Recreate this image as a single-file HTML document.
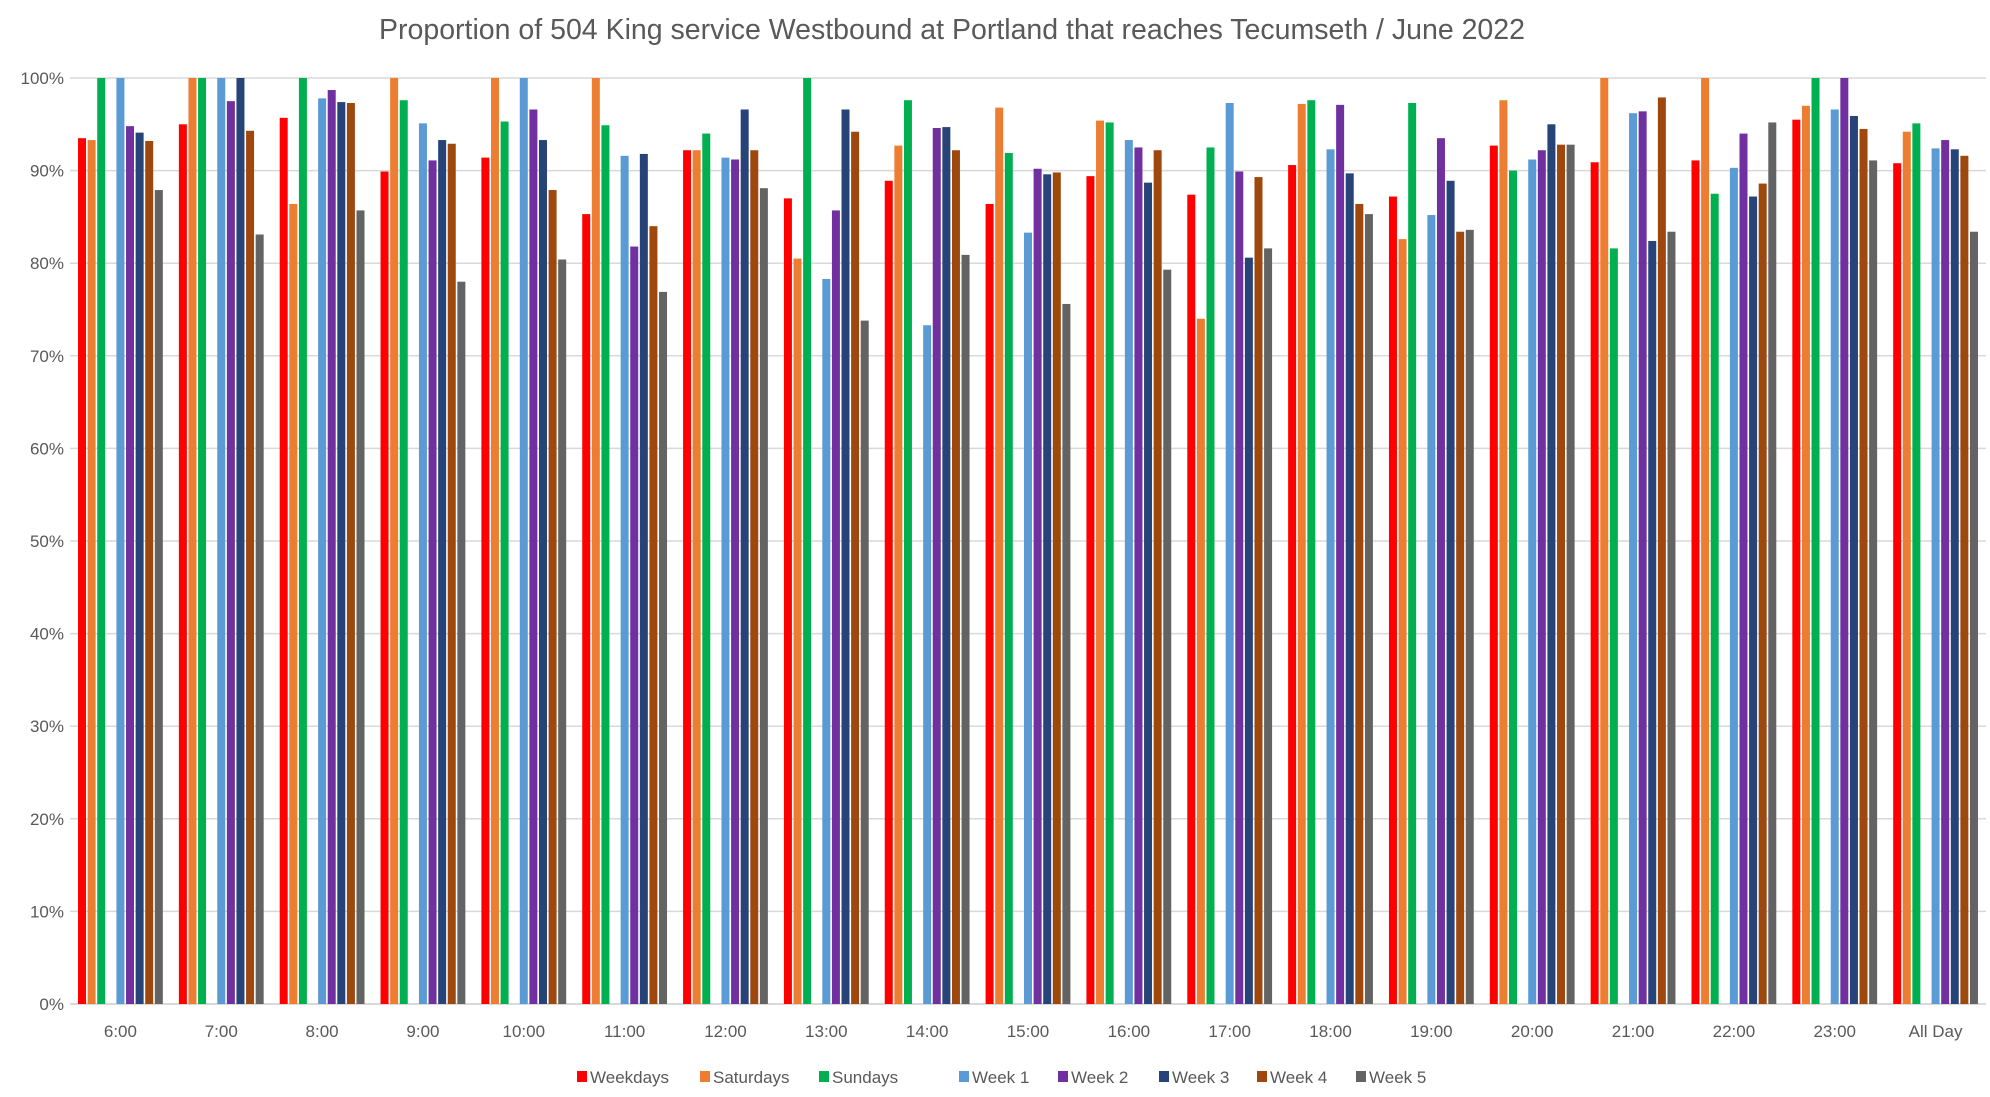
<!DOCTYPE html>
<html><head><meta charset="utf-8"><style>
html,body{margin:0;padding:0;background:#fff;}
svg{display:block;font-family:"Liberation Sans",Calibri,sans-serif;}
</style></head><body>
<svg id="chart" width="1990" height="1097" viewBox="0 0 1990 1097">
<rect width="1990" height="1097" fill="#fff"/>
<text x="952" y="39" text-anchor="middle" font-size="28.5" fill="#595959">Proportion of 504 King service Westbound at Portland that reaches Tecumseth / June 2022</text>
<g id="grid"></g><g id="bars"></g><g id="xlabels"></g><g id="legend"></g>
</svg>
<script>
const categories=["6:00","7:00","8:00","9:00","10:00","11:00","12:00","13:00","14:00","15:00","16:00","17:00","18:00","19:00","20:00","21:00","22:00","23:00","All Day"];
const seriesNames=["Weekdays","Saturdays","Sundays","Week 1","Week 2","Week 3","Week 4","Week 5"];
const weekdays=[93.5,95.0,95.7,89.9,91.4,85.3,92.2,87.0,88.9,86.4,89.4,87.4,90.6,87.2,92.7,90.9,91.1,95.5,90.8];
const saturdays=[93.3,100,86.4,100,100,100,92.2,80.5,92.7,96.8,95.4,74.0,97.2,82.6,97.6,100,100,97.0,94.2];
const sundays=[100,100,100,97.6,95.3,94.9,94.0,100,97.6,91.9,95.2,92.5,97.6,97.3,90.0,81.6,87.5,100,95.1];
const week1=[100,100,97.8,95.1,100,91.6,91.4,78.3,73.3,83.3,93.3,97.3,92.3,85.2,91.2,96.2,90.3,96.6,92.4];
const week2=[94.8,97.5,98.7,91.1,96.6,81.8,91.2,85.7,94.6,90.2,92.5,89.9,97.1,93.5,92.2,96.4,94.0,100,93.3];
const week3=[94.1,100,97.4,93.3,93.3,91.8,96.6,96.6,94.7,89.6,88.7,80.6,89.7,88.9,95.0,82.4,87.2,95.9,92.3];
const week4=[93.2,94.3,97.3,92.9,87.9,84.0,92.2,94.2,92.2,89.8,92.2,89.3,86.4,83.4,92.8,97.9,88.6,94.5,91.6];
const week5=[87.9,83.1,85.7,78.0,80.4,76.9,88.1,73.8,80.9,75.6,79.3,81.6,85.3,83.6,92.8,83.4,95.2,91.1,83.4];
const yTicks=[0,10,20,30,40,50,60,70,80,90,100];
const series=[weekdays,saturdays,sundays,week1,week2,week3,week4,week5];
const colors=["#ff0000","#ed7d31","#00b050","#5b9bd5","#7030a0","#264478","#9e480e","#636363"];
const slots=[0,1,2,4,5,6,7,8];
const NS="http://www.w3.org/2000/svg";
const L=70,R=1986,T=78,B=1004;
const gw=(R-L)/categories.length;
function y(v){return B-(v/100)*(B-T);}
function gx(i){return L+gw*(i+0.5);}
function mk(tag,attrs,parent){const e=document.createElementNS(NS,tag);for(const k in attrs)e.setAttribute(k,attrs[k]);parent.appendChild(e);return e;}
const grid=document.getElementById('grid');
yTicks.forEach(t=>{
  const ln=mk('line',{x1:L,x2:R,y1:y(t),y2:y(t),stroke:'#d9d9d9','stroke-width':t===0?2:1.5},grid);
  
  
  const tx=mk('text',{x:L-6,y:y(t)+6,'text-anchor':'end','font-size':17,fill:'#595959'},grid);
  tx.textContent=t+'%';
  
  
});
const bars=document.getElementById('bars');
const pitch=9.6,bw=8;
series.forEach((s,si)=>{
  s.forEach((v,ci)=>{
    const cx=gx(ci)+(slots[si]-4)*pitch;
    const r=mk('rect',{x:cx-bw/2,y:y(v),width:bw,height:B-y(v),fill:colors[si]},bars);
    
    
  });
});
const xl=document.getElementById('xlabels');
categories.forEach((c,i)=>{
  const t=mk('text',{x:gx(i),y:1037,'text-anchor':'middle','font-size':17,fill:'#595959'},xl);
  t.textContent=c;
  
  
});
const lg=document.getElementById('legend');
const legX=[577,700,819,959,1058,1159,1257,1356];
seriesNames.forEach((n,i)=>{
  const g=mk('g',{},lg);
  
  
  mk('rect',{x:legX[i],y:1071,width:10,height:11,fill:colors[i]},g);
  const t=mk('text',{x:legX[i]+13,y:1083,'font-size':17,fill:'#595959'},g);
  t.textContent=n;
});
</script>
</body></html>
